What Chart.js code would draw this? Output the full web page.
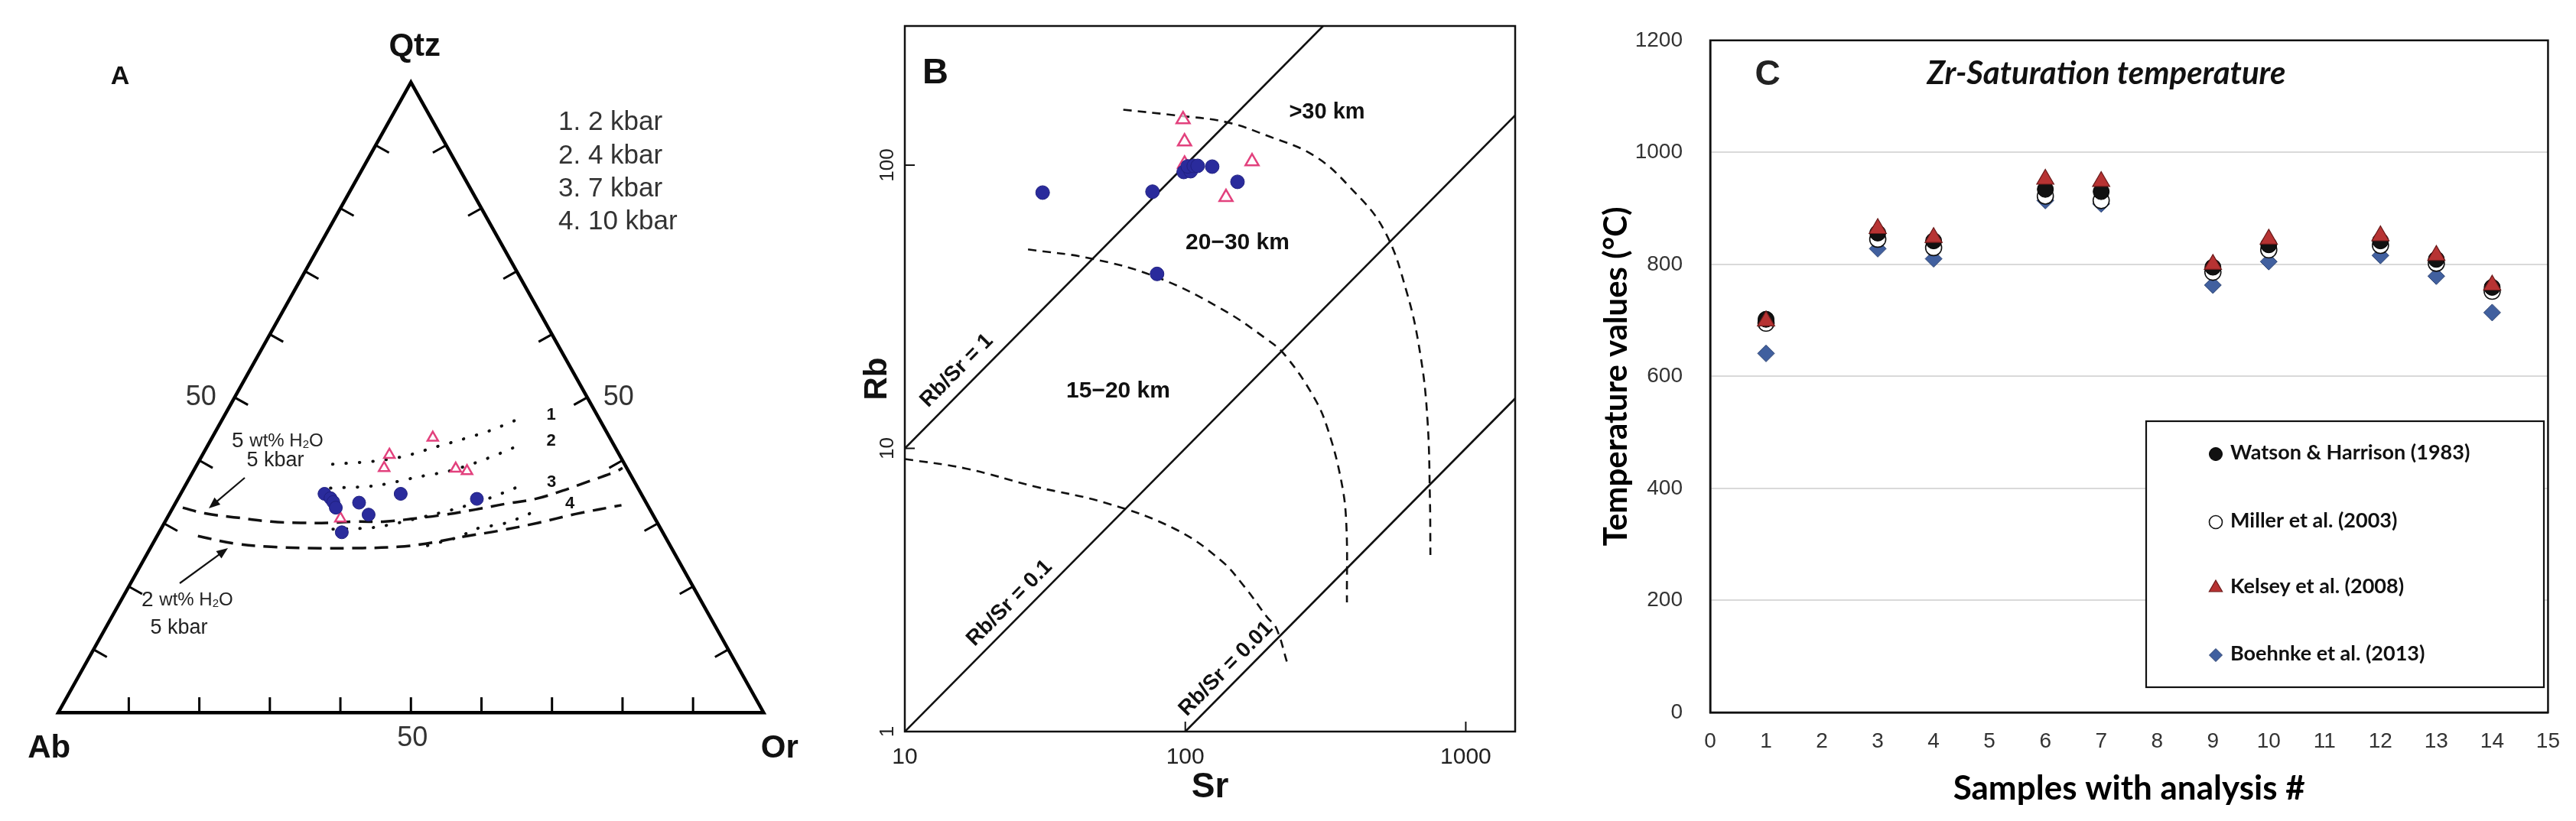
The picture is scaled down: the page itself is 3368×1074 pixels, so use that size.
<!DOCTYPE html>
<html><head><meta charset="utf-8">
<script src="https://cdn.jsdelivr.net/npm/chart.js@4.4.1/dist/chart.umd.min.js"></script>
<style>
html,body{margin:0;padding:0;background:#fff;}
body{width:3368px;height:1074px;position:relative;overflow:hidden;}
canvas{position:absolute;top:0;}
#cA{left:0}
#cB{left:1060px}
#cC{left:2060px}
</style></head><body>
<canvas id="cA" width="1050" height="1074"></canvas>
<canvas id="cB" width="960" height="1074"></canvas>
<canvas id="cC" width="1308" height="1074"></canvas>
<script>
// ================= DATA =================
// Panel A : ternary Qtz–Ab–Or (normative %), each entry [Qtz, Ab, Or]
const triVertices = [[0,100,0],[0,0,100],[100,0,0]];
const ternTicks = [10,20,30,40,50,60,70,80,90];
const circlesA = [[34.7,44.9,20.4],[34.0,44.4,21.6],[33.4,44.3,22.3],[32.5,44.4,23.1],[33.3,40.7,26.0],[31.4,40.3,28.3],[28.6,45.5,25.9],[34.7,34.1,31.2],[33.9,23.7,42.4]];
const trianglesA = [[43.6,25.1,31.3],[40.9,32.6,26.5],[38.8,34.4,26.8],[38.7,24.3,37.0],[38.3,22.9,38.8],[30.8,44.6,24.6]];
const curve5wt = [[32.5,66.1,1.4],[31.6,63.4,5.0],[30.9,59.0,10.1],[30.3,54.7,15.0],[30.1,50.6,19.3],[30.1,46.4,23.5],[30.3,42.7,27.0],[30.3,38.5,31.2],[30.8,34.0,35.2],[31.4,29.5,39.1],[32.2,24.8,43.0],[33.1,20.1,46.8],[33.9,15.4,50.7],[35.2,10.9,53.9],[36.6,6.7,56.7],[38.2,1.9,59.9],[38.8,0.6,60.6]];
const curve2wt = [[28.0,66.2,5.8],[26.8,61.5,11.7],[26.3,56.7,17.0],[26.1,51.5,22.4],[26.1,43.8,30.1],[26.3,38.7,35.0],[26.8,34.5,38.7],[27.9,28.6,43.5],[28.9,22.8,48.3],[30.1,16.9,53.0],[31.5,10.9,57.6],[32.9,3.7,63.4]];
const cotectic2kbar = [[39.4,41.4,19.2],[39.9,35.1,25.0],[40.7,30.4,28.9],[42.0,25.9,32.1],[43.3,21.2,35.5],[44.7,16.5,38.8],[46.4,11.9,41.7]];
const cotectic4kbar = [[35.6,43.6,20.8],[36.0,37.0,27.0],[37.4,30.2,32.4],[38.3,25.5,36.2],[39.6,21.1,39.3],[41.3,16.3,42.4],[42.2,14.0,43.8]];
const cotectic7kbar = [[29.1,46.5,24.4],[29.4,40.3,30.3],[31.4,31.2,37.4],[32.6,26.5,40.9],[34.0,21.9,44.1],[35.7,17.2,47.1]];
const cotectic10kbar = [[26.5,34.4,39.1],[27.9,29.1,43.0],[29.1,26.4,44.5],[30.1,21.4,48.5],[31.9,16.5,51.6]];
const pressureLegend = ['1. 2 kbar','2. 4 kbar','3. 7 kbar','4. 10 kbar'];

// Panel B : Rb vs Sr (ppm)
const srCircles = [31.0, 76.4, 98.7, 104.5, 102.0, 107.2, 110.7, 124.7, 153.5, 79.3];
const rbCircles = [80.0, 80.6, 94.6, 95.2, 99.0, 99.4, 99.4, 98.8, 87.3, 41.3];
const srTriangles = [98.2, 99.4, 99.4, 173, 139.7];
const rbTriangles = [145, 121, 101, 103, 77];
const ratioLines = [
  {label:'Rb/Sr = 1',    sr:[10, 310],  rb:[10, 310]},
  {label:'Rb/Sr = 0.1',  sr:[10, 1500], rb:[1, 150]},
  {label:'Rb/Sr = 0.01', sr:[100,1500], rb:[1, 15]}
];
const depth30Sr = [60.1, 91.6, 139.6, 196, 288, 389, 510, 617, 690, 730, 745, 748];
const depth30Rb = [157, 150, 142, 127, 108, 83, 59.3, 35.4, 21.2, 12.7, 6.7, 4.2];
const depth20Sr = [27.5, 46.2, 78.7, 133.6, 196, 228, 288, 322, 360, 375, 377];
const depth20Rb = [50.4, 46.8, 40.3, 31.2, 24.2, 21.2, 15.1, 11.7, 7.65, 5.43, 2.86];
const depth15Sr = [10, 16.4, 29.1, 51.6, 91.6, 133.6, 162, 196, 211, 232];
const depth15Rb = [9.17, 8.5, 7.33, 6.43, 5.2, 4.03, 3.26, 2.53, 2.32, 1.72];
const srTicks = [10, 100, 1000];
const rbTicks = [1, 10, 100];

// Panel C : Zr-saturation temperature (°C)
const samples = [1, 3, 4, 6, 7, 9, 10, 12, 13, 14];
const watson = [702, 856, 842, 934, 930, 795, 835, 842, 809, 759];
const miller = [695, 845, 830, 922, 914, 786, 826, 834, 802, 752];
const kelsey = [699, 864, 848, 952, 948, 800, 845, 851, 816, 763];
const boehnke = [641, 828, 810, 914, 908, 763, 805, 816, 779, 714];
const sampleTicks = [0,1,2,3,4,5,6,7,8,9,10,11,12,13,14,15];
const tempTicks = [0, 200, 400, 600, 800, 1000, 1200];

// ================= HELPERS =================
const SANS = '"Liberation Sans", Arial, sans-serif';
const NARROW = '"Liberation Sans Narrow", "Liberation Sans", Arial, sans-serif';
const CAL = 'Lato, "Open Sans", sans-serif';
Chart.defaults.font.family = SANS;
Chart.defaults.color = '#222';

function tern(p){ const s=p[0]+p[1]+p[2]; const q=p[0]/s*100, o=p[2]/s*100; return {x:o+q/2, y:q}; }
function xy(xs, ys){ return xs.map((v,i)=>({x:v, y:ys[i]})); }
function txt(ctx, s, x, y, font, o={}){
  ctx.save(); ctx.font=font; ctx.fillStyle=o.color||'#111';
  ctx.textAlign=o.align||'center'; ctx.textBaseline='middle';
  ctx.translate(x,y); if(o.rot) ctx.rotate(o.rot); ctx.fillText(s,0,0); ctx.restore();
}
function parts(ctx, x, y, list, color){
  ctx.save(); ctx.fillStyle=color||'#222'; ctx.textBaseline='middle'; ctx.textAlign='left';
  let cx=x;
  for(const p of list){ ctx.font=p.f; ctx.fillText(p.s, cx, y+(p.dy||0)); cx+=ctx.measureText(p.s).width; }
  ctx.restore();
}
function arrow(ctx, x1,y1,x2,y2){
  ctx.save(); ctx.strokeStyle='#111'; ctx.fillStyle='#111'; ctx.lineWidth=2.2;
  const a=Math.atan2(y2-y1,x2-x1), h=16, w=0.38;
  ctx.beginPath(); ctx.moveTo(x1,y1); ctx.lineTo(x2-Math.cos(a)*h*0.8,y2-Math.sin(a)*h*0.8); ctx.stroke();
  ctx.beginPath(); ctx.moveTo(x2,y2);
  ctx.lineTo(x2-h*Math.cos(a-w), y2-h*Math.sin(a-w));
  ctx.lineTo(x2-h*Math.cos(a+w), y2-h*Math.sin(a+w)); ctx.closePath(); ctx.fill();
  ctx.restore();
}
function marker(ctx, style, x, y, r, fill, stroke, bw){
  ctx.save(); ctx.fillStyle=fill; ctx.strokeStyle=stroke; ctx.lineWidth=bw;
  if (Chart.helpers && Chart.helpers.drawPoint){
    Chart.helpers.drawPoint(ctx, {pointStyle:style, radius:r, rotation:0, borderWidth:bw}, x, y);
  } else {
    ctx.beginPath(); ctx.arc(x,y,r,0,Math.PI*2); ctx.fill(); if(bw) ctx.stroke();
  }
  ctx.restore();
}
const baseOpts = {responsive:false, animation:false, devicePixelRatio:1,
  plugins:{legend:{display:false}, tooltip:{enabled:false}}};

// ================= PANEL A =================
const decorA = {
  id:'decorA',
  afterDatasetsDraw(chart){
    const {ctx, scales:{x, y}} = chart;
    const P = p => { const t=tern(p); return [x.getPixelForValue(t.x), y.getPixelForValue(t.y)]; };
    const C = P([1,1,1]);
    ctx.save(); ctx.strokeStyle='#000'; ctx.lineWidth=3; ctx.lineCap='butt';
    const edges = [[triVertices[0],triVertices[1]],[triVertices[0],triVertices[2]],[triVertices[1],triVertices[2]]];
    for (const [a,b] of edges){
      const pa=P(a), pb=P(b);
      const dx=pb[0]-pa[0], dy=pb[1]-pa[1], L=Math.hypot(dx,dy);
      let nx=-dy/L, ny=dx/L;
      if ((C[0]-(pa[0]+pb[0])/2)*nx+(C[1]-(pa[1]+pb[1])/2)*ny<0){nx=-nx;ny=-ny;}
      for (const t of ternTicks){
        const f=t/100; const m=[a[0]*(1-f)+b[0]*f, a[1]*(1-f)+b[1]*f, a[2]*(1-f)+b[2]*f];
        const p=P(m);
        ctx.beginPath(); ctx.moveTo(p[0],p[1]); ctx.lineTo(p[0]+nx*20,p[1]+ny*20); ctx.stroke();
      }
    }
    ctx.restore();
    const L50 = P([50,50,0]), R50 = P([50,0,50]), B50 = P([0,50,50]);
    txt(ctx,'50',L50[0]-44,L50[1],'36px '+SANS,{color:'#333'});
    txt(ctx,'50',R50[0]+41,R50[1],'36px '+SANS,{color:'#333'});
    txt(ctx,'50',B50[0]+2,B50[1]+34,'36px '+SANS,{color:'#333'});
    const Q=P([100,0,0]), Ab=P([0,100,0]), Or=P([0,0,100]);
    txt(ctx,'Qtz',Q[0]+5,Q[1]-46,'bold 42px '+SANS);
    txt(ctx,'Ab',Ab[0]-12,Ab[1]+47,'bold 42px '+SANS);
    txt(ctx,'Or',Or[0]+21,Or[1]+47,'bold 42px '+SANS);
    txt(ctx,'A',157,101,'bold 34px '+SANS);
    const ly=[160,204,247,290];
    pressureLegend.forEach((s,i)=>txt(ctx,s,730,ly[i],'35px '+SANS,{align:'left',color:'#333'}));
    const ends=[cotectic2kbar, cotectic4kbar, cotectic7kbar, cotectic10kbar];
    ends.forEach((c,i)=>{ const p=P(c[c.length-1]); txt(ctx,String(i+1),p[0]+46,p[1]-7+(i==3?-3:0),'bold 22px '+SANS); });
    parts(ctx,303,577,[{s:'5 ',f:'28px '+SANS},{s:'wt% H',f:'24px '+SANS},{s:'2',f:'15px '+SANS,dy:5},{s:'O',f:'24px '+SANS}]);
    txt(ctx,'5 kbar',360,603,'27px '+SANS,{color:'#222'});
    parts(ctx,185,785,[{s:'2 ',f:'28px '+SANS},{s:'wt% H',f:'24px '+SANS},{s:'2',f:'15px '+SANS,dy:5},{s:'O',f:'24px '+SANS}]);
    txt(ctx,'5 kbar',234,822,'27px '+SANS,{color:'#222'});
    arrow(ctx,320,625,273,665);
    arrow(ctx,235,763,298,717);
  }
};
const lineA = (data, extra) => Object.assign({data:data.map(tern), showLine:true, pointRadius:0, borderColor:'#111', backgroundColor:'#111', order:5}, extra);
new Chart(document.getElementById('cA'), {
  type:'scatter',
  data:{datasets:[
    {label:'Circles', data:circlesA.map(tern), pointStyle:'circle', pointRadius:8.5, backgroundColor:'#2a2b9c', borderColor:'#202080', borderWidth:1, order:0},
    {label:'Triangles', data:trianglesA.map(tern), pointStyle:'triangle', pointRadius:8, backgroundColor:'rgba(255,255,255,0.7)', borderColor:'#e2417d', borderWidth:2.5, order:0},
    lineA([...triVertices, triVertices[0], triVertices[1]], {label:'frame', borderColor:'#000', borderWidth:4.5, borderJoinStyle:'miter', order:9}),
    lineA(curve5wt, {label:'5 wt% H2O', borderDash:[18,11], borderWidth:3.5, tension:0.4}),
    lineA(curve2wt, {label:'2 wt% H2O', borderDash:[18,11], borderWidth:3.5, tension:0.4}),
    lineA(cotectic2kbar, {label:'2 kbar', borderDash:[0.5,17], borderWidth:4, borderCapStyle:'round', tension:0.3}),
    lineA(cotectic4kbar, {label:'4 kbar', borderDash:[0.5,17], borderWidth:4, borderCapStyle:'round', tension:0.3}),
    lineA(cotectic7kbar, {label:'7 kbar', borderDash:[0.5,17], borderWidth:4, borderCapStyle:'round', tension:0.3}),
    lineA(cotectic10kbar, {label:'10 kbar', borderDash:[0.5,17], borderWidth:4, borderCapStyle:'round', tension:0.3})
  ]},
  options:Object.assign({}, baseOpts, {
    layout:{padding:0},
    scales:{x:{type:'linear', display:false, min:-7.12, max:104.46},
            y:{type:'linear', display:false, min:-15.93, max:111.77}}
  }),
  plugins:[decorA]
});

// ================= PANEL B =================
const decorB = {
  id:'decorB',
  beforeDatasetsDraw(chart){
    const {ctx, chartArea:a, scales:{x,y}} = chart;
    ctx.save(); ctx.strokeStyle='#111'; ctx.lineWidth=2.5;
    ctx.strokeRect(a.left, a.top, a.right-a.left, a.bottom-a.top);
    ctx.lineWidth=2;
    for (const v of srTicks){ const px=x.getPixelForValue(v); ctx.beginPath(); ctx.moveTo(px,a.bottom); ctx.lineTo(px,a.bottom-13); ctx.stroke(); }
    for (const v of rbTicks){ const py=y.getPixelForValue(v); ctx.beginPath(); ctx.moveTo(a.left,py); ctx.lineTo(a.left+13,py); ctx.stroke(); }
    ctx.restore();
    for (const v of rbTicks){ txt(ctx,String(v),a.left-22,y.getPixelForValue(v),'26px '+SANS,{rot:-Math.PI/2,color:'#222'}); }
  },
  afterDatasetsDraw(chart){
    const {ctx} = chart;
    txt(ctx,'B',163,96,'bold 47px '+SANS);
    txt(ctx,'>30 km',675,147,'bold 29px '+SANS);
    txt(ctx,'20\u221230 km',558,318,'bold 30px '+SANS);
    txt(ctx,'15\u221220 km',402,512,'bold 30px '+SANS);
    const rot=-Math.atan2(370,366);
    txt(ctx,ratioLines[0].label,191,485,'bold 28px '+SANS,{rot});
    txt(ctx,ratioLines[1].label,260,789,'bold 28px '+SANS,{rot});
    txt(ctx,ratioLines[2].label,543,875,'bold 28px '+SANS,{rot});
  }
};
const dashB = (xs, ys, label) => ({label, data:xy(xs,ys), showLine:true, pointRadius:0, borderColor:'#111', borderWidth:2.6, borderDash:[11,8], tension:0.4, order:5});
new Chart(document.getElementById('cB'), {
  type:'scatter',
  data:{datasets:[
    {label:'Circles', data:xy(srCircles, rbCircles), pointStyle:'circle', pointRadius:9, backgroundColor:'#2a2b9c', borderColor:'#202080', borderWidth:1, order:0},
    {label:'Triangles', data:xy(srTriangles, rbTriangles), pointStyle:'triangle', pointRadius:10, backgroundColor:'rgba(255,255,255,0.7)', borderColor:'#e2417d', borderWidth:2.5, order:0},
    ...ratioLines.map(r=>({label:r.label, data:xy(r.sr,r.rb), showLine:true, pointRadius:0, borderColor:'#111', borderWidth:2.6, order:6})),
    dashB(depth30Sr, depth30Rb, '>30 km'),
    dashB(depth20Sr, depth20Rb, '20-30 km'),
    dashB(depth15Sr, depth15Rb, '15-20 km')
  ]},
  options:Object.assign({}, baseOpts, {
    layout:{padding:{top:34, right:39, bottom:7, left:0}},
    scales:{
      x:{type:'logarithmic', min:10, max:1500,
         afterBuildTicks:s=>{ s.ticks = srTicks.map(v=>({value:v})); },
         afterFit:s=>{ s.height=110; },
         grid:{display:false, drawTicks:false}, border:{display:false},
         ticks:{padding:16, font:{size:30}, color:'#222', callback:v=>String(v), maxRotation:0, autoSkip:false},
         title:{display:true, text:'Sr', font:{size:46, weight:'bold'}, color:'#111', padding:{top:0, bottom:9}}},
      y:{type:'logarithmic', min:1, max:310,
         afterBuildTicks:s=>{ s.ticks = rbTicks.map(v=>({value:v})); },
         afterFit:s=>{ s.width=123; },
         grid:{display:false, drawTicks:false}, border:{display:false},
         ticks:{display:false},
         title:{display:true, text:'Rb', font:{size:42, weight:'bold'}, color:'#111', padding:{top:62, bottom:0}}}
    }
  }),
  plugins:[decorB]
});

// ================= PANEL C =================
const seriesC = [
  {label:'Watson & Harrison (1983)', vals:watson, style:'circle', r:10.5, fill:'#111', stroke:'#000', bw:1, order:1},
  {label:'Miller et al. (2003)', vals:miller, style:'circle', r:10.5, fill:'#fff', stroke:'#111', bw:1.6, order:2},
  {label:'Kelsey et al. (2008)', vals:kelsey, style:'triangle', r:13, fill:'#b73333', stroke:'#6a1a1a', bw:1.2, order:0},
  {label:'Boehnke et al. (2013)', vals:boehnke, style:'rectRot', r:11, fill:'#41609f', stroke:'#2b416f', bw:1, order:3}
];
const decorC = {
  id:'decorC',
  beforeDatasetsDraw(chart){
    const {ctx, chartArea:a} = chart;
    ctx.save(); ctx.strokeStyle='#111'; ctx.lineWidth=2.5;
    ctx.strokeRect(a.left, a.top, a.right-a.left, a.bottom-a.top); ctx.restore();
  },
  afterDatasetsDraw(chart){
    const {ctx} = chart;
    txt(ctx,'C',251,98,'bold 46px '+SANS,{color:'#222'});
    txt(ctx,'Zr-Saturation temperature',694,96,'italic bold 42px '+CAL,{color:'#111'});
    ctx.save(); ctx.fillStyle='#fff'; ctx.strokeStyle='#111'; ctx.lineWidth=2.2;
    ctx.fillRect(746,551,520,348); ctx.strokeRect(746,551,520,348); ctx.restore();
    const ys=[592,681,767,855];
    seriesC.forEach((s,i)=>{
      marker(ctx, s.style, 837, ys[i]+2, s.style==='triangle'?10:8.5, s.fill, s.stroke, s.bw);
      txt(ctx, s.label, 856, ys[i], 'bold 27px '+CAL, {align:'left', color:'#111'});
    });
  }
};
new Chart(document.getElementById('cC'), {
  type:'scatter',
  data:{datasets: seriesC.map(s=>({label:s.label, data:xy(samples, s.vals), pointStyle:s.style, pointRadius:s.r,
        backgroundColor:s.fill, borderColor:s.stroke, borderWidth:s.bw, order:s.order}))},
  options:Object.assign({}, baseOpts, {
    layout:{padding:{top:34, right:31, bottom:0, left:0}},
    scales:{
      x:{type:'linear', min:0, max:15,
         afterBuildTicks:s=>{ s.ticks = sampleTicks.map(v=>({value:v})); },
         afterFit:s=>{ s.height=142; },
         grid:{display:false, drawTicks:false}, border:{display:true, color:'#111', width:2.5},
         ticks:{padding:21, font:{size:28, family:NARROW}, color:'#333', autoSkip:false, maxRotation:0, callback:v=>String(v)},
         title:{display:true, text:'Samples with analysis #', font:{family:CAL, size:44, weight:'bold'}, color:'#000', padding:{top:0, bottom:16}}},
      y:{type:'linear', min:0, max:1200,
         afterBuildTicks:s=>{ s.ticks = tempTicks.map(v=>({value:v})); },
         afterFit:s=>{ s.width=176; },
         grid:{color:'#d9d9d9', lineWidth:2, drawTicks:false}, border:{display:true, color:'#111', width:2.5},
         ticks:{padding:36, font:{size:28}, color:'#333', callback:v=>String(v)},
         title:{display:true, text:'Temperature values (°C)', font:{family:CAL, size:42, weight:'bold'}, color:'#000', padding:{top:28, bottom:0}}}
    }
  }),
  plugins:[decorC]
});
</script>
</body></html>
